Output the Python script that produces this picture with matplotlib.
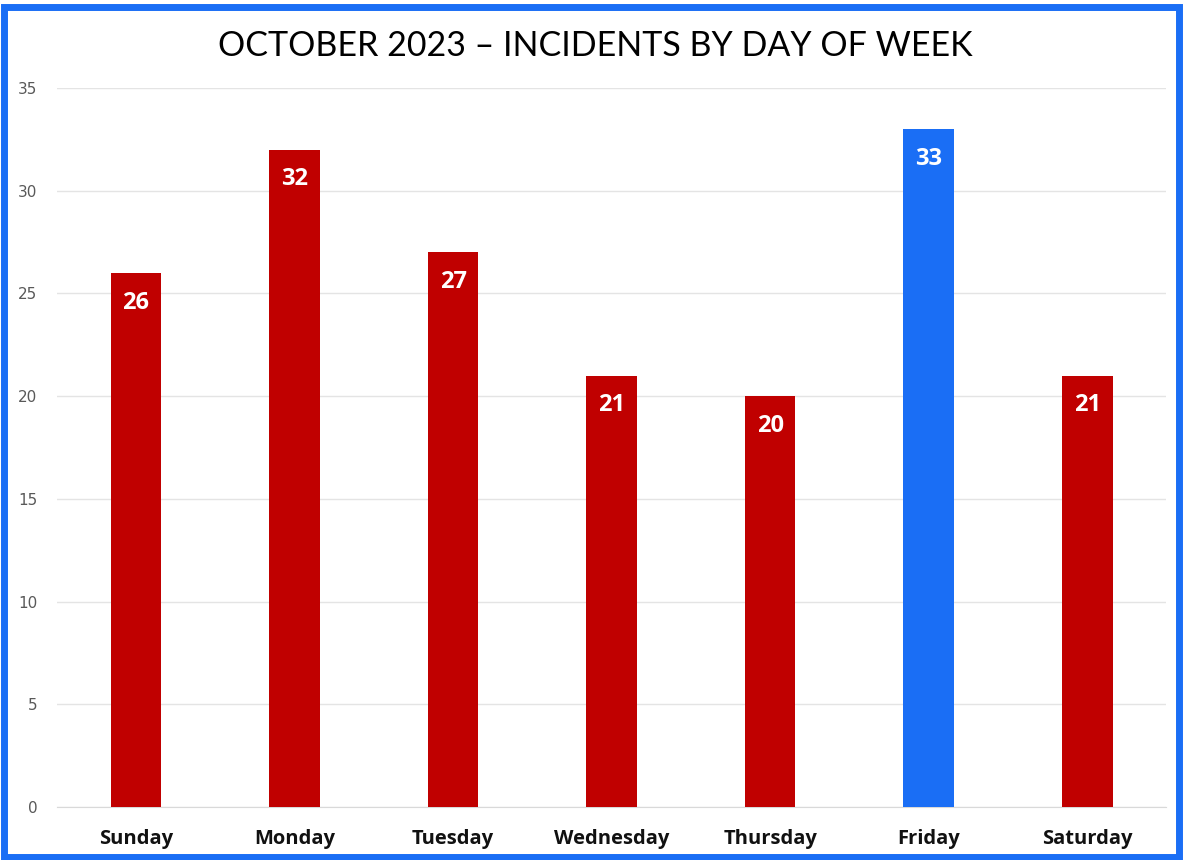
import matplotlib.pyplot as plt
from matplotlib.patches import Rectangle

# Incidents per weekday, October 2023
days = ["Sunday", "Monday", "Tuesday", "Wednesday", "Thursday", "Friday", "Saturday"]
incidents = [26, 32, 27, 21, 20, 33, 21]
highlight = "Friday"

red = "#C00000"
blue = "#1A6EF5"
colors = [blue if d == highlight else red for d in days]

fig = plt.figure(figsize=(11.83, 8.6), dpi=100)
ax = fig.add_axes([0.048, 0.0616, 0.938, 0.8361])

x = range(len(days))
bars = ax.bar(x, incidents, width=0.32, color=colors, zorder=3)

for b, v in zip(bars, incidents):
    ax.text(b.get_x() + b.get_width() / 2, v - 1.45, str(v), ha="center", va="center",
            color="white", fontsize=17, fontweight="bold", family="Open Sans", zorder=4)

ax.set_xlim(-0.5, len(days) - 0.5)
ax.set_ylim(0, 35)
ax.set_yticks(range(0, 36, 5))
ax.set_xticks(list(x))
ax.set_xticklabels(days, fontsize=14.5, fontweight="bold", family="Open Sans", color="#111111")
ax.tick_params(axis="y", labelsize=11, colors="#595959", length=0, pad=14)
ax.tick_params(axis="x", length=0, pad=16)
ax.grid(axis="y", color="#E4E4E4", linewidth=1, zorder=0)
for s in ["top", "right", "left"]:
    ax.spines[s].set_visible(False)
ax.spines["bottom"].set_color("#D9D9D9")

fig.text(0.503, 0.947, "OCTOBER 2023 \u2013 INCIDENTS BY DAY OF WEEK", ha="center", va="center",
         fontsize=24.5, family="Lato", color="black")

# blue frame round the figure
fig.patches.append(Rectangle((0.003, 0.003), 0.994, 0.989, transform=fig.transFigure,
                             fill=False, edgecolor=blue, linewidth=5))

fig.savefig("out.png", dpi=100)
